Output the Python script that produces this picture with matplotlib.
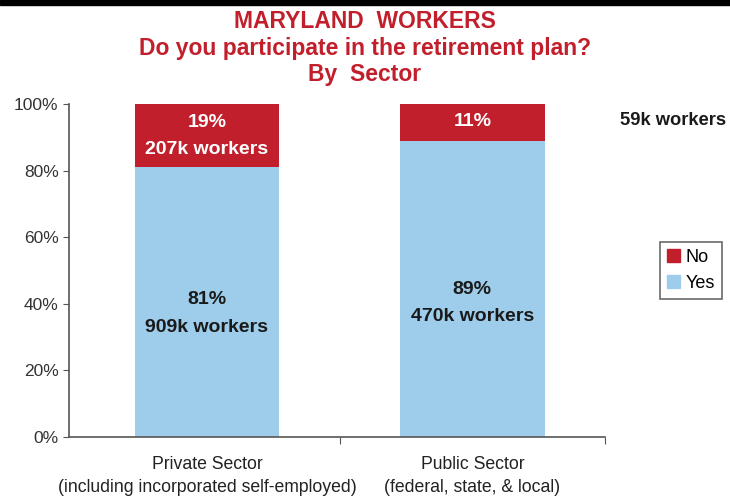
import matplotlib.pyplot as plt
import matplotlib.patches as mpatches
from matplotlib.ticker import PercentFormatter

plt.rcParams['font.family'] = ['Liberation Sans', 'DejaVu Sans']

sectors = ['Private Sector\n(including incorporated self-employed)',
           'Public Sector\n(federal, state, & local)']
yes_pct = [81, 89]
no_pct = [19, 11]
yes_workers = ['909k', '470k']
no_workers = ['207k', '59k']

red = '#C21F2C'
blue = '#9DCDEB'

fig = plt.figure(figsize=(7.3, 4.97), dpi=100)
ax = fig.add_axes([69 / 730, 60 / 497, 536 / 730, 333 / 497])

x = [0, 1]
ax.bar(x, yes_pct, width=0.545, color=blue, label='Yes')
ax.bar(x, no_pct, width=0.545, bottom=yes_pct, color=red, label='No')

ax.set_xlim(-0.52, 1.5)
ax.set_ylim(0, 100)
ax.set_yticks(range(0, 101, 20))
ax.yaxis.set_major_formatter(PercentFormatter(decimals=0))
ax.set_xticks([0.5, 1.5], minor=False)
ax.set_xticklabels([])
ax.set_xticks(x, minor=True)
ax.set_xticklabels(sectors, minor=True, fontsize=12.7, color='#222222', linespacing=1.4)
ax.tick_params(axis='x', which='minor', length=0, pad=14)
ax.tick_params(axis='x', which='major', length=5, direction='out', color='#555555')
ax.tick_params(axis='y', labelsize=12.5, length=4, color='#555555', colors='#333333')
for s in ['top', 'right']:
    ax.spines[s].set_visible(False)
for s in ['left', 'bottom']:
    ax.spines[s].set_color('#555555')
    ax.spines[s].set_linewidth(1.2)

# labels for the "Yes" segments
for i in x:
    ax.text(i, yes_pct[i] * 0.4 + 8.8, f'{yes_pct[i]}%', ha='center', va='center',
            fontsize=14, fontweight='bold', color='#1a1a1a')
    ax.text(i, yes_pct[i] * 0.4 + 0.6, f'{yes_workers[i]} workers', ha='center', va='center',
            fontsize=14, fontweight='bold', color='#1a1a1a')

# labels for the "No" segments
ax.text(0, 94.3, f'{no_pct[0]}%', ha='center', va='center',
        fontsize=14, fontweight='bold', color='white')
ax.text(0, 86.2, f'{no_workers[0]} workers', ha='center', va='center',
        fontsize=14, fontweight='bold', color='white')
ax.text(1, 94.6, f'{no_pct[1]}%', ha='center', va='center',
        fontsize=14, fontweight='bold', color='white')
ax.text(1.555, 95, f'{no_workers[1]} workers', ha='left', va='center',
        fontsize=13.2, fontweight='bold', color='#1a1a1a', clip_on=False)

handles = [mpatches.Patch(color=red, label='No'), mpatches.Patch(color=blue, label='Yes')]
leg = ax.legend(handles=handles, loc='center left', bbox_to_anchor=(1.103, 0.50),
                borderaxespad=0, frameon=True, fancybox=False, fontsize=13,
                handlelength=0.7, handleheight=0.7, handletextpad=0.3,
                borderpad=0.4, labelspacing=0.5)
leg.get_frame().set_edgecolor('#444444')
leg.get_frame().set_linewidth(1.2)

fig.text(0.5, 1 - 21 / 497, 'MARYLAND  WORKERS', ha='center', va='center',
         fontsize=16.5, fontweight='bold', color=red)
fig.text(0.5, 1 - 49 / 497, 'Do you participate in the retirement plan?', ha='center',
         va='center', fontsize=16.5, fontweight='bold', color=red)
fig.text(0.5, 1 - 75 / 497, 'By  Sector', ha='center', va='center',
         fontsize=16.5, fontweight='bold', color=red)

# dark strip along the top edge
fig.patches.append(mpatches.Rectangle((0, 1 - 5 / 497), 1, 5 / 497, transform=fig.transFigure,
                                      color='black', zorder=10))

fig.savefig('out.png', dpi=100)
